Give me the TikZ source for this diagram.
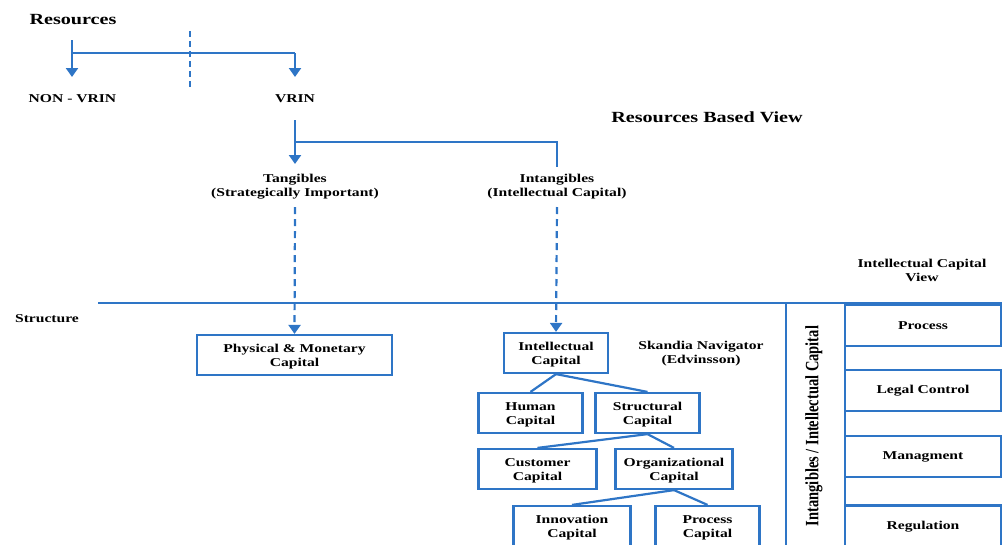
\documentclass[tikz,border=0pt]{standalone}
\usepackage{fontspec}
\setmainfont{Liberation Serif}[FakeStretch=1.3]
\newfontfamily\rotfont{Liberation Serif}
\usetikzlibrary{arrows.meta}
\definecolor{lblue}{RGB}{46,117,198}
\newcommand{\toplift}{\rule{0pt}{12.5pt}}
\tikzset{
  lbl/.style={font=\bfseries\fontsize{12}{14}\selectfont, align=center, inner sep=0pt, text=black},
  ttl/.style={font=\bfseries\fontsize{15.5}{18}\selectfont, inner sep=0pt, text=black},
  box/.style={lbl, draw=lblue, line width=2.2pt, minimum height=40pt},
  conn/.style={draw=lblue, line width=2.2pt},
  tipa/.style={-{Triangle[width=12pt,length=9pt]}},
  arr/.style={conn, tipa},
  dsh/.style={conn, dash pattern=on 7pt off 5pt},
}
\begin{document}
\begin{tikzpicture}[x=1pt,y=-1pt]
\useasboundingbox (0,0) rectangle (1003,544);
% titles and labels
\node[ttl] (res) at (73,20) {Resources};
\node[lbl] (nonv) at (72.5,99) {NON - VRIN};
\node[lbl] (vrin) at (295,99) {VRIN};
\node[ttl] (rbv) at (707,117) {Resources Based View};
\node[lbl] (tang) at (295,187) {Tangibles\\(Strategically Important)};
\node[lbl] (intang) at (557,187) {Intangibles\\(Intellectual Capital)};
\node[lbl] (icv) at (922,270.5) {Intellectual Capital\\View};
\node[lbl] (struct) at (47,319) {Structure};
\node[lbl] (skan) at (701,354) {Skandia Navigator\\(Edvinsson)};
% boxes
\node[box, minimum width=195pt] (phys) at (294.5,355) {\toplift Physical \& Monetary\\Capital};
\node[box, minimum width=104pt] (ic) at (556,353) {\toplift Intellectual\\Capital};
\node[box, minimum width=104pt] (hum) at (530.5,413) {\toplift Human\\Capital};
\node[box, minimum width=104pt] (str) at (647.5,413) {\toplift Structural\\Capital};
\node[box, minimum width=118pt] (cus) at (537.5,469) {\toplift Customer\\Capital};
\node[box, minimum width=117pt] (org) at (674,469) {\toplift Organizational\\Capital};
\node[box, minimum width=117pt] (inn) at (572,526) {\toplift Innovation\\Capital};
\node[box, minimum width=104pt] (pcap) at (707.5,526) {\toplift Process\\Capital};
% right panel
\node[box, minimum width=156pt, minimum height=41pt] (proc) at (923,325.5) {Process};
\node[box, minimum width=156pt, minimum height=41pt] (legal) at (923,390.5) {Legal Control};
\node[box, minimum width=156pt, minimum height=41pt] (man) at (923,456.5) {Managment};
\node[box, minimum width=156pt, minimum height=43pt] (reg) at (923,527) {Regulation};
\node[rotate=90, inner sep=0pt] (rot) at (814,426)
  {\rotfont\bfseries\fontsize{14.5}{17}\selectfont\scalebox{1}[1.3]{Intangibles / Intellectual Capital}};
% coordinates
\coordinate (r0) at (72,40);
\coordinate (rj) at (72,53);
\coordinate (vj) at (295,53);
\coordinate (nvtip) at (72,77);
\coordinate (vtip) at (295,77);
\coordinate (d0) at (190,31);
\coordinate (d1) at (190,90);
\coordinate (v0) at (295,120);
\coordinate (vb) at (295,142);
\coordinate (ttip) at (295,164);
\coordinate (ib) at (557,142);
\coordinate (ie) at (557,167);
\coordinate (td) at (295,207);
\coordinate (id) at (557,207);
\coordinate (s0) at (98,303);
\coordinate (s1) at (1002,303);
\coordinate (p0) at (786,303);
\coordinate (p1) at (786,546);
\coordinate (q0) at (845,303);
\coordinate (q1) at (845,546);
% connectors
\draw[conn] (r0) -- (rj) -- (vj);
\draw[arr] (rj) -- (nvtip);
\draw[arr] (vj) -- (vtip);
\draw[conn, dash pattern=on 6pt off 4pt] (d0) -- (d1);
\draw[arr] (v0) -- (ttip);
\draw[conn] (vb) -- (ib) -- (ie);
\draw[dsh, tipa] (td) -- (phys.north);
\draw[dsh, tipa] (id) -- (ic.north);
\draw[conn] (s0) -- (s1);
\draw[conn] (p0) -- (p1);
\draw[conn] (q0) -- (q1);
\draw[conn] (ic.south) -- (hum.north);
\draw[conn] (ic.south) -- (str.north);
\draw[conn] (str.south) -- (cus.north);
\draw[conn] (str.south) -- (org.north);
\draw[conn] (org.south) -- (inn.north);
\draw[conn] (org.south) -- (pcap.north);
\end{tikzpicture}
\end{document}
